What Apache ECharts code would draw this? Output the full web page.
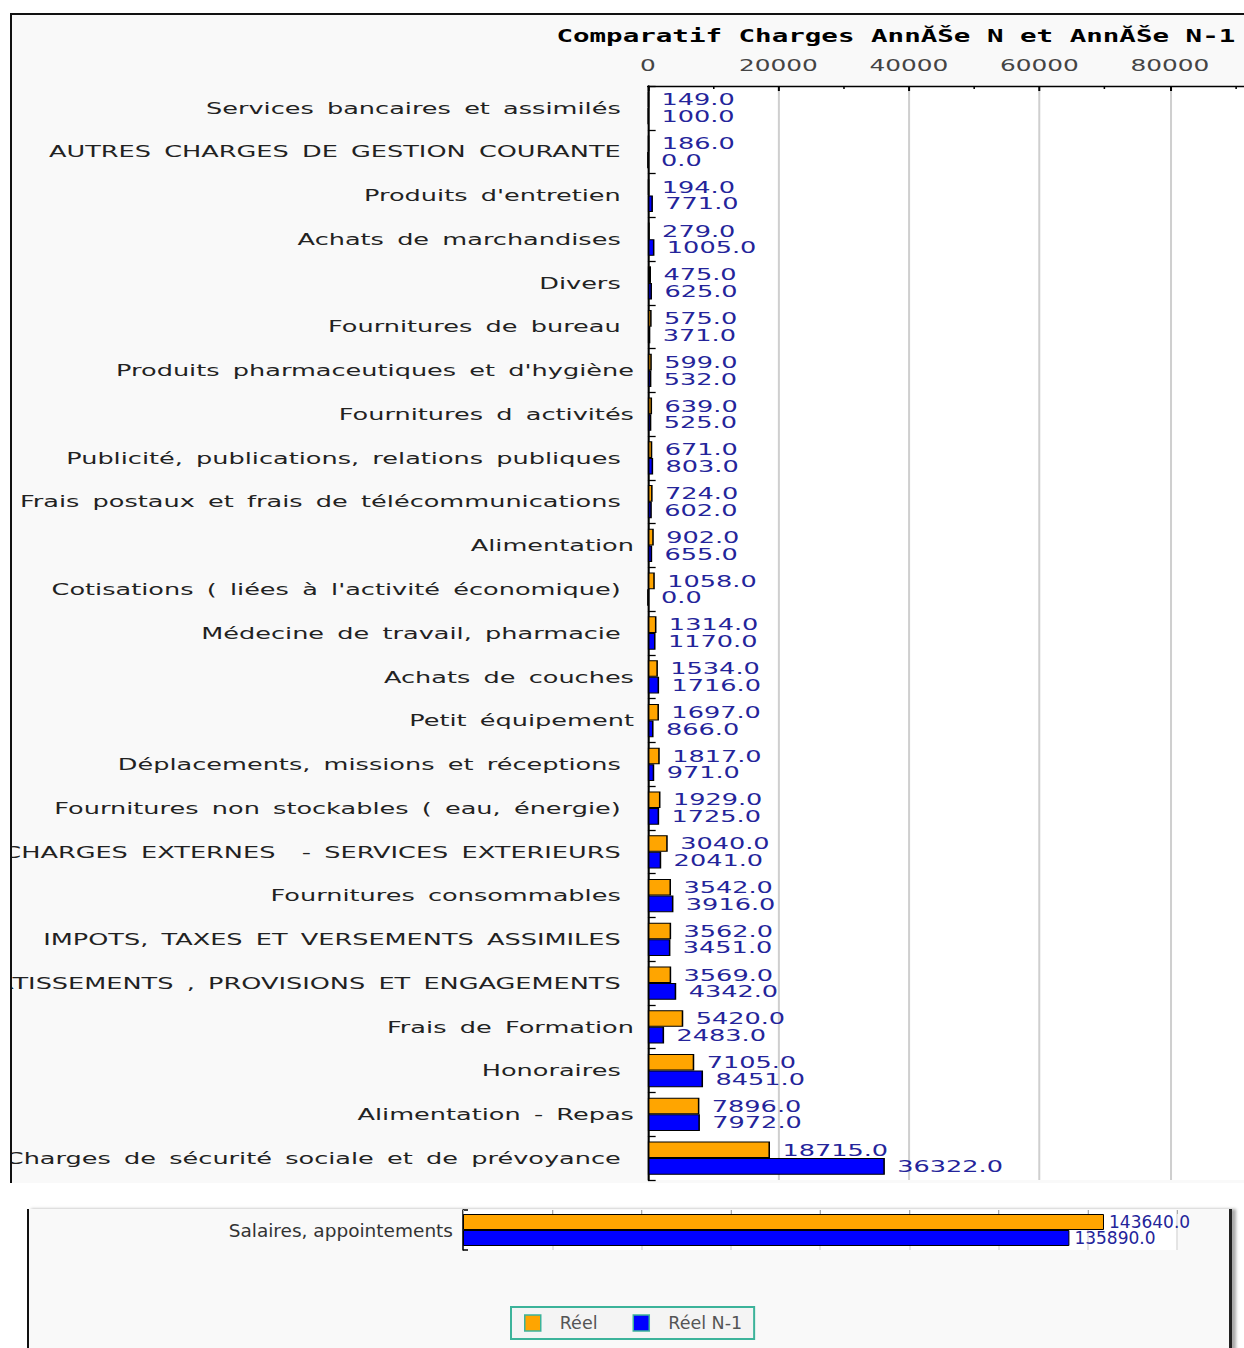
<!DOCTYPE html>
<html>
<head>
<meta charset="utf-8">
<script src="https://cdn.jsdelivr.net/npm/echarts@6/dist/echarts.min.js"></script>
<style>
html,body{margin:0;padding:0;background:#fff;width:1244px;height:1348px;overflow:hidden;position:relative}
#panelTop{position:absolute;left:10px;top:13px;width:1260px;height:1168px;background:#f9f9f9;border-top:2px solid #111;border-left:2px solid #111;overflow:hidden}
#chartTop{position:absolute;left:-12px;top:-15px;width:1160px;height:1183px;transform:scaleX(1.55);transform-origin:0 0}
#panelBottom{position:absolute;left:27px;top:1209px;width:1200px;height:150px;background:#f9f9f9;border-left:2px solid #111;border-right:3px solid #222;box-shadow:4px 0 3px #aaa}
#chartBottom{position:absolute;left:0;top:1209px;width:1244px;height:139px}
</style>
</head>
<body>
<div id="panelTop"><div id="chartTop"></div></div>
<div id="panelBottom"></div>
<div id="chartBottom"></div>
<script>
// donnees : postes de charges (espace final = comme dans la source)
var categories = [
	"Services bancaires et assimilés ",
	"AUTRES CHARGES DE GESTION COURANTE ",
	"Produits d'entretien ",
	"Achats de marchandises ",
	"Divers ",
	"Fournitures de bureau ",
	"Produits pharmaceutiques et d'hygiène",
	"Fournitures d activités",
	"Publicité, publications, relations publiques ",
	"Frais postaux et frais de télécommunications ",
	"Alimentation",
	"Cotisations ( liées à l'activité économique) ",
	"Médecine de travail, pharmacie ",
	"Achats de couches",
	"Petit équipement",
	"Déplacements, missions et réceptions ",
	"Fournitures non stockables ( eau, énergie) ",
	"CHARGES EXTERNES  - SERVICES EXTERIEURS ",
	"Fournitures consommables ",
	"IMPOTS, TAXES ET VERSEMENTS ASSIMILES ",
	"DOTATIONS AUX AMORTISSEMENTS , PROVISIONS ET ENGAGEMENTS ",
	"Frais de Formation",
	"Honoraires ",
	"Alimentation - Repas",
	"Charges de sécurité sociale et de prévoyance "
];
var reel = [149, 186, 194, 279, 475, 575, 599, 639, 671, 724, 902, 1058, 1314, 1534, 1697, 1817, 1929, 3040, 3542, 3562, 3569, 5420, 7105, 7896, 18715];
var reelN1 = [100, 0, 771, 1005, 625, 371, 532, 525, 803, 602, 655, 0, 1170, 1716, 866, 971, 1725, 2041, 3916, 3451, 4342, 2483, 8451, 7972, 36322];

var categoriesSal = ["Salaires, appointements"];
var reelSal = [143640];
var reelN1Sal = [135890];

var seriesNames = ['Réel', 'Réel N-1'];
var xTicks = {min: 0, max: 160000, interval: 20000};

var colOrange = '#FFA500';
var colBlue = '#0000FF';
var colLabel = '#24249a';

function barSerie(name, data, color, fs, dist, gap){
	return {
		name: name,
		type: 'bar',
		data: data,
		barGap: '0%',
		barCategoryGap: gap,
		itemStyle: {color: color, borderColor: '#000', borderWidth: 1},
		label: {
			show: true,
			position: 'right',
			distance: dist,
			color: colLabel,
			fontFamily: 'DejaVu Sans',
			fontSize: fs,
			formatter: function(p){ return p.value.toFixed(1); }
		}
	};
}

//graphique du haut (image etiree horizontalement)
var chartTop = echarts.init(document.getElementById('chartTop'), null, {renderer: 'svg'});
chartTop.setOption({
	animation: false,
	title: {
		text: 'Comparatif Charges AnnĂŠe N et AnnĂŠe N-1',
		left: 359,
		top: 27,
		padding: 0,
		textStyle: {fontFamily: 'DejaVu Sans Mono', fontWeight: 'bold', fontSize: 17.75, color: '#000'}
	},
	grid: {
		left: 418, top: 86, width: 673.5, height: 1094,
		outerBoundsMode: 'none',
		containLabel: false,
		show: true, backgroundColor: '#fff', borderWidth: 0
	},
	xAxis: {
		type: 'value',
		position: 'top',
		min: xTicks.min, max: xTicks.max, interval: xTicks.interval,
		axisLine: {show: true, lineStyle: {color: '#000', width: 1.3}},
		axisTick: {show: true, inside: true, length: 5, lineStyle: {color: '#000', width: 1.3}},
		minorTick: {show: true, splitNumber: 2, length: 3, lineStyle: {color: '#000', width: 1}},
		splitLine: {show: true, lineStyle: {color: '#cfcfcf', width: 1.3}},
		axisLabel: {
			margin: 12,
			color: '#444',
			fontFamily: 'DejaVu Sans',
			fontSize: 16,
			formatter: function(v){ return String(v); }
		}
	},
	yAxis: {
		type: 'category',
		inverse: true,
		data: categories,
		axisLine: {show: true, lineStyle: {color: '#000', width: 1.3}},
		axisTick: {show: true, inside: true, length: 5, lineStyle: {color: '#000', width: 1.3}},
		axisLabel: {
			margin: 9,
			color: '#222',
			fontFamily: 'DejaVu Sans',
			fontSize: 16.5,
			// espaces plus larges comme dans l'image source
			formatter: function(v){ return v.replace(/ /g, '\u00a0\u2009'); }
		}
	},
	series: [
		barSerie(seriesNames[0], reel, colOrange, 16.5, 8, '24%'),
		barSerie(seriesNames[1], reelN1, colBlue, 16.5, 8, '24%')
	]
});

//graphique du bas : salaires + legende
var chartBottom = echarts.init(document.getElementById('chartBottom'), null, {renderer: 'svg'});
chartBottom.setOption({
	animation: false,
	grid: {
		left: 463, top: 1, width: 714, height: 40,
		outerBoundsMode: 'none',
		containLabel: false,
		show: true, backgroundColor: '#fff', borderWidth: 0
	},
	legend: {
		data: seriesNames,
		icon: 'rect',
		left: 511,
		top: 98,
		itemWidth: 16,
		itemHeight: 16,
		itemGap: 35,
		padding: [7, 12, 7, 13],
		borderColor: '#3cb39a',
		borderWidth: 2,
		backgroundColor: '#f4f4f4',
		itemStyle: {borderColor: '#3cb39a', borderWidth: 1.5},
		textStyle: {color: '#555', fontFamily: 'DejaVu Sans', fontSize: 17.5, padding: [0, 0, 0, 14]}
	},
	xAxis: {
		type: 'value',
		position: 'top',
		min: xTicks.min, max: xTicks.max, interval: xTicks.interval,
		axisLine: {show: false},
		axisTick: {show: true, inside: true, length: 4, lineStyle: {color: '#aaa'}},
		splitLine: {show: true, lineStyle: {color: '#ddd', width: 1.5}},
		axisLabel: {show: false}
	},
	yAxis: {
		type: 'category',
		inverse: true,
		data: categoriesSal,
		axisLine: {show: true, lineStyle: {color: '#000', width: 1.5}},
		axisTick: {show: true, inside: true, length: 5, lineStyle: {color: '#000', width: 1.5}},
		axisLabel: {margin: 10, color: '#333', fontFamily: 'DejaVu Sans', fontSize: 18.5}
	},
	series: [
		barSerie(seriesNames[0], reelSal, colOrange, 17, 5, '20%'),
		barSerie(seriesNames[1], reelN1Sal, colBlue, 17, 5, '20%')
	]
});
</script>
</body>
</html>
